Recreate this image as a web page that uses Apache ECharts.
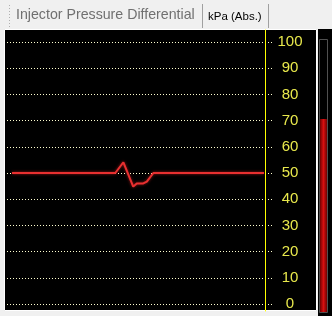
<!DOCTYPE html>
<html><head><meta charset="utf-8">
<script src="https://cdn.jsdelivr.net/npm/echarts@6/dist/echarts.min.js"></script>
<style>html,body{margin:0;padding:0;background:#f0f0f0;}#c{width:332px;height:316px;}</style>
</head><body><div id="c"></div>
<script>
var titleText = 'Injector Pressure Differential';
var unitText = 'kPa (Abs.)';
var yTicks = [0, 10, 20, 30, 40, 50, 60, 70, 80, 90, 100];
var sampleTimes = [0, 41, 44.2, 48.1, 49.5, 52.1, 53.5, 56.1, 100];
var sampleValues = [50, 50, 54.1, 44.8, 46, 46, 46.7, 50, 50];
var gaugeValue = [71];

var chart = echarts.init(document.getElementById('c'), null, {renderer: 'canvas'});
var lineData = sampleTimes.map(function (t, i) { return [t, sampleValues[i]]; });
var hidden = {show: false};
chart.setOption({
  animation: false,
  backgroundColor: '#f0f0f0',
  graphic: [
    {type: 'line', shape: {x1: 9.5, y1: 5, x2: 9.5, y2: 28}, style: {stroke: '#b0b0b0', lineDash: [1, 2], lineWidth: 1}},
    {type: 'text', left: 16, top: 8, style: {text: titleText, fill: '#707070', font: '14.2px "Liberation Sans", Arial, sans-serif'}},
    {type: 'line', shape: {x1: 202.5, y1: 4, x2: 202.5, y2: 28}, style: {stroke: '#a0a0a0', lineWidth: 1}},
    {type: 'text', left: 208, top: 11, style: {text: unitText, fill: '#000', font: '11.5px "Liberation Sans", Arial, sans-serif'}},
    {type: 'line', shape: {x1: 268.5, y1: 4, x2: 268.5, y2: 28}, style: {stroke: '#a0a0a0', lineWidth: 1}},
    {type: 'rect', z: -10, shape: {x: 4.5, y: 29.5, width: 312, height: 281}, style: {fill: '#000', stroke: '#ffffff', lineWidth: 1}},
    {type: 'rect', z: -10, shape: {x: 318, y: 29, width: 14, height: 287}, style: {fill: '#000'}},
    {type: 'rect', z: -9, shape: {x: 319.5, y: 39.5, width: 8, height: 273}, style: {fill: '#000', stroke: '#505050', lineWidth: 1}}
  ],
  grid: [
    {left: 7, top: 42, width: 266, height: 262},
    {left: 12, top: 42, width: 252, height: 262},
    {left: 5, top: 30, width: 260, height: 281},
    {left: 320, top: 40, width: 7, height: 272}
  ],
  xAxis: [
    {gridIndex: 0, type: 'value', min: 0, max: 1, show: false},
    {gridIndex: 1, type: 'value', min: 0, max: 100, show: false},
    {gridIndex: 2, type: 'value', min: 0, max: 1, show: false},
    {gridIndex: 3, type: 'category', data: ['v'], show: false}
  ],
  yAxis: [
    {gridIndex: 0, type: 'value', min: 0, max: 100, interval: 10, position: 'right',
      axisLine: hidden, axisTick: hidden,
      axisLabel: {show: true, margin: 17, align: 'center', color: '#e8e84c', fontSize: 15,
        fontFamily: '"Liberation Sans", Arial, sans-serif',
        formatter: function (v) { return yTicks.indexOf(v) >= 0 ? String(v) : ''; }},
      splitLine: {show: true, lineStyle: {color: '#ffffd0', type: [1, 2], width: 1}}},
    {gridIndex: 1, type: 'value', min: 0, max: 100, show: false},
    {gridIndex: 2, type: 'value', min: 0, max: 1, position: 'right',
      axisLine: {show: true, onZero: false, lineStyle: {color: '#ffff00', width: 1}},
      axisTick: hidden, axisLabel: hidden, splitLine: hidden},
    {gridIndex: 3, type: 'value', min: 0, max: 100, show: false}
  ],
  series: [
    {type: 'line', xAxisIndex: 1, yAxisIndex: 1, data: lineData, symbol: 'none',
      lineStyle: {color: '#e83030', width: 2, shadowColor: 'rgba(255,40,40,0.6)', shadowBlur: 3}},
    {type: 'bar', xAxisIndex: 3, yAxisIndex: 3, data: gaugeValue, barWidth: 7,
      itemStyle: {color: new echarts.graphic.LinearGradient(0, 0, 1, 0, [
        {offset: 0, color: '#700000'}, {offset: 0.5, color: '#d81010'}, {offset: 1, color: '#700000'}])}}
  ]
});
</script></body></html>
